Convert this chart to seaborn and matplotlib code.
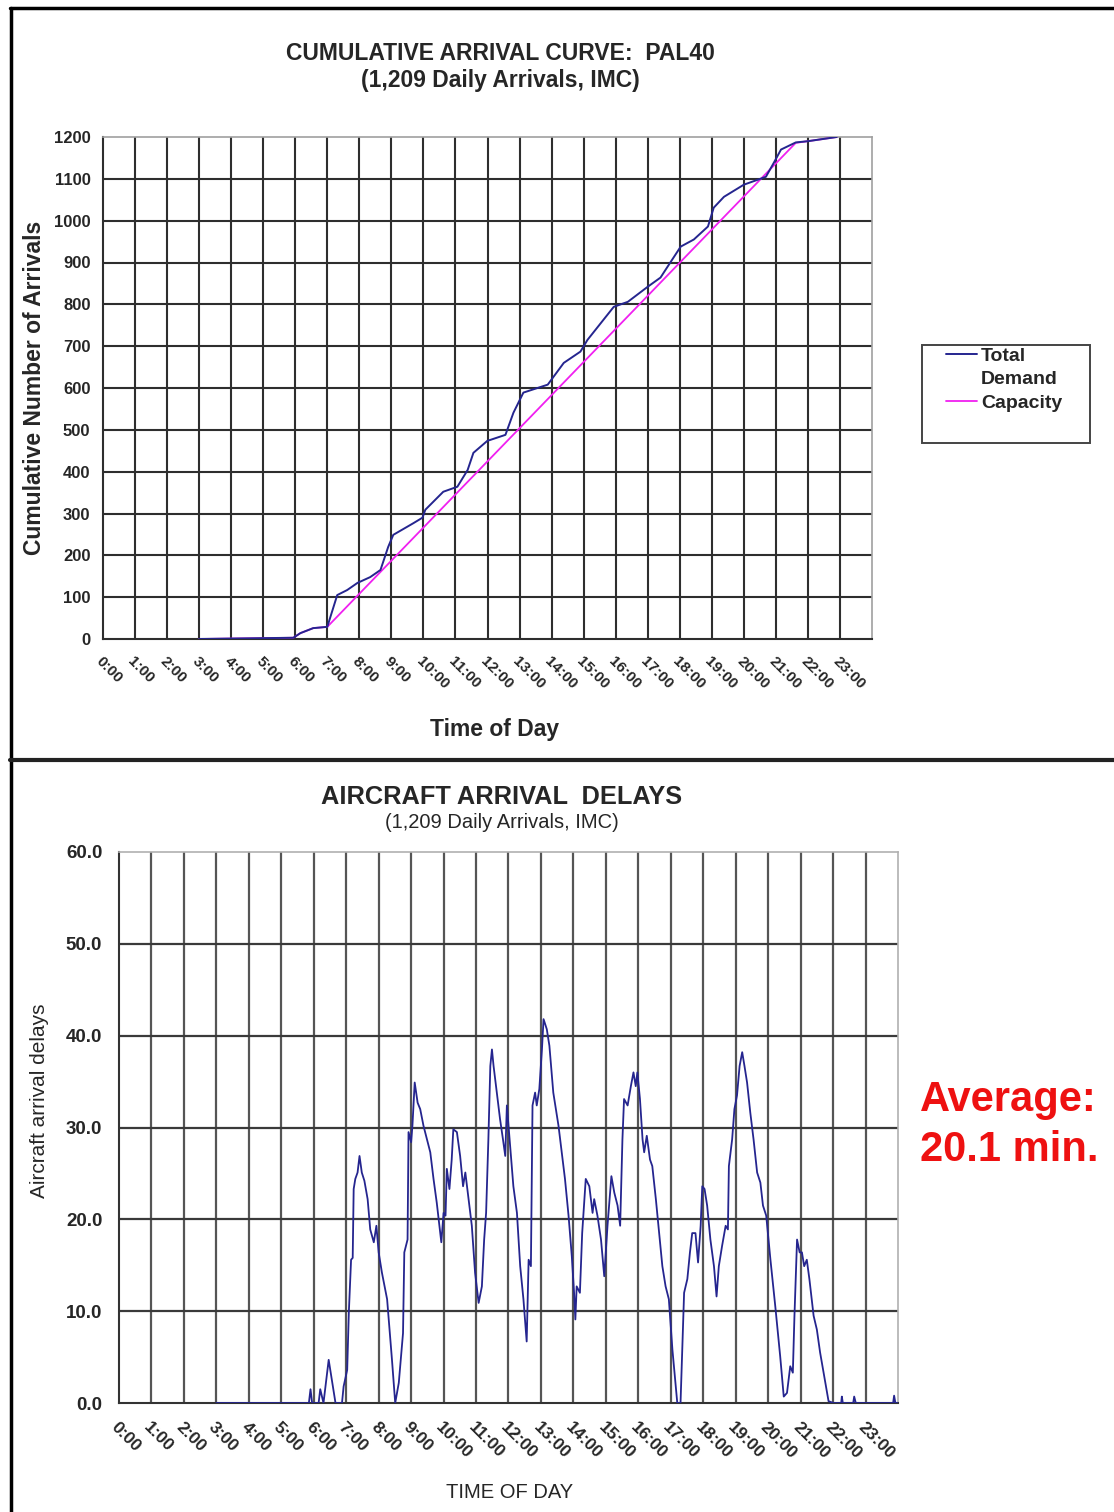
import numpy as np
import pandas as pd
import matplotlib
matplotlib.use("Agg")
import matplotlib.pyplot as plt
from matplotlib.lines import Line2D
from matplotlib.patches import Rectangle
import seaborn as sns

sns.set_style("white")
plt.rcParams['font.family'] = ['Liberation Sans', 'DejaVu Sans']

# ---------------- data ----------------
hour_labels = [f"{h}:00" for h in range(24)]

demand_hours = [3.0, 5.94, 6.16, 6.56, 7.0, 7.31, 7.62, 7.94, 8.34, 8.66, 8.9, 9.06,
                9.69, 9.97, 10.06, 10.62, 11.06, 11.38, 11.56, 12.0, 12.09, 12.56,
                12.81, 13.12, 13.88, 14.38, 14.9, 15.12, 15.94, 16.38, 17.0, 17.4,
                17.62, 18.03, 18.44, 18.88, 19.06, 19.38, 20.0, 20.44, 20.69, 20.94,
                21.16, 21.62, 22.0, 22.9]
demand_vals = [0, 3, 14, 26, 29, 105, 117, 134, 148, 165, 220, 249,
               277, 290, 309, 352, 364, 404, 445, 474, 476, 488,
               541, 589, 608, 660, 687, 715, 794, 806, 842, 864,
               890, 938, 955, 986, 1031, 1057, 1086, 1098, 1105, 1139,
               1170, 1187, 1190, 1200]

capacity_hours = [3.0, 5.94, 6.16, 6.56, 7.0, 21.62, 22.0, 22.9]
capacity_vals = [0, 3, 14, 26, 29, 1186, 1190, 1200]

delay_hours = [3.0, 5.85, 5.9, 5.95, 6.15, 6.2, 6.3, 6.46, 6.67, 6.87, 6.92, 7.03,
               7.08, 7.15, 7.2, 7.23, 7.28, 7.35, 7.41, 7.48, 7.56, 7.66, 7.74,
               7.85, 7.93, 8.0, 8.1, 8.26, 8.41, 8.51, 8.62, 8.69, 8.75, 8.79,
               8.89, 8.92, 9.0, 9.04, 9.11, 9.2, 9.28, 9.38, 9.49, 9.59, 9.69,
               9.79, 9.93, 10.0, 10.06, 10.1, 10.18, 10.25, 10.3, 10.41, 10.51,
               10.6, 10.67, 10.77, 10.87, 10.97, 11.08, 11.18, 11.25, 11.31, 11.38,
               11.44, 11.49, 11.54, 11.64, 11.74, 11.83, 11.9, 11.95, 12.05, 12.15,
               12.26, 12.36, 12.46, 12.56, 12.62, 12.69, 12.74, 12.82, 12.87, 12.95,
               13.03, 13.08, 13.18, 13.26, 13.38, 13.54, 13.64, 13.74, 13.85, 13.95,
               14.02, 14.06, 14.1, 14.2, 14.27, 14.38, 14.49, 14.59, 14.64, 14.74,
               14.85, 14.95, 15.05, 15.17, 15.26, 15.36, 15.44, 15.51, 15.56, 15.67,
               15.77, 15.85, 15.92, 15.97, 16.05, 16.13, 16.18, 16.26, 16.36, 16.43,
               16.54, 16.64, 16.74, 16.84, 16.94, 17.05, 17.2, 17.3, 17.41, 17.51,
               17.59, 17.66, 17.76, 17.84, 17.92, 17.97, 18.04, 18.12, 18.22, 18.33,
               18.41, 18.48, 18.58, 18.69, 18.76, 18.79, 18.89, 18.96, 19.04, 19.12,
               19.2, 19.27, 19.35, 19.45, 19.55, 19.66, 19.76, 19.84, 19.94, 20.07,
               20.22, 20.37, 20.48, 20.58, 20.68, 20.76, 20.81, 20.89, 20.97, 21.04,
               21.11, 21.19, 21.27, 21.4, 21.5, 21.6, 21.76, 21.86, 22.01, 22.25,
               22.27, 22.3, 22.62, 22.65, 22.7, 23.85, 23.88, 23.92, 24.0]
delay_vals = [0, 0, 1.5, 0, 0, 1.5, 0, 4.7, 0, 0, 1.8, 3.6,
              9.8, 15.6, 15.8, 23.3, 24.4, 25.1, 26.9, 25.1, 24.2, 22.2, 18.9,
              17.5, 19.3, 16.4, 14.2, 11.3, 4.7, 0, 2.2, 5.1, 7.6, 16.4,
              17.8, 29.5, 28.4, 30.2, 34.9, 32.7, 32.0, 30.2, 28.7, 27.3, 24.4,
              21.8, 17.5, 20.7, 20.4, 25.5, 23.3, 26.5, 29.8, 29.5, 26.9,
              23.6, 25.1, 22.2, 19.3, 14.2, 10.9, 12.7, 17.8, 20.7, 28.7,
              36.7, 38.5, 36.7, 33.8, 30.9, 28.7, 26.9, 32.4, 28.0, 23.6,
              20.7, 14.9, 11.3, 6.7, 15.6, 14.9, 32.4, 33.8, 32.4, 34.2,
              38.5, 41.8, 40.7, 38.9, 33.8, 30.2, 27.3, 24.4, 20.4, 16.0,
              12.0, 9.1, 12.7, 12.0, 18.5, 24.4, 23.6, 20.7, 22.2, 20.4,
              17.8, 13.8, 19.3, 24.7, 22.9, 21.5, 19.3, 28.7, 33.1, 32.4,
              34.5, 36.0, 34.5, 36.0, 33.1, 28.7, 27.3, 29.1, 26.5, 25.8,
              22.2, 18.5, 14.9, 12.7, 11.3, 5.8, 0, 0, 12.0, 13.5,
              16.4, 18.5, 18.5, 15.3, 19.3, 23.6, 23.3, 21.5, 17.8, 14.9,
              11.6, 14.9, 17.1, 19.3, 18.9, 25.8, 28.7, 32.0, 33.5, 36.7,
              38.2, 36.7, 34.9, 31.6, 28.7, 25.1, 24.0, 21.5, 20.4, 15.6,
              10.5, 5.1, 0.7, 1.1, 4.0, 3.3, 9.5, 17.8, 16.4, 16.4,
              14.9, 15.6, 13.5, 9.5, 8.0, 5.5, 2.2, 0.2, 0, 0,
              0.7, 0, 0, 0.7, 0, 0, 0.8, 0, 0]

# ---------------- figure ----------------
W, H = 1114, 1512
fig = plt.figure(figsize=(W / 100, H / 100), dpi=100)

def fx(px):
    return px / W

def fy(py):
    return 1 - py / H

navy = '#25258f'
magenta = '#f020f0'

# ---- top axes ----
ax1 = fig.add_axes([fx(103), fy(639), fx(872) - fx(103), fy(137) - fy(639)])
df_d = pd.DataFrame({'hour': demand_hours, 'val': demand_vals})
df_c = pd.DataFrame({'hour': capacity_hours, 'val': capacity_vals})
sns.lineplot(data=df_c, x='hour', y='val', ax=ax1, color=magenta, lw=1.3,
             estimator=None, sort=False, label='Capacity', zorder=3)
sns.lineplot(data=df_d, x='hour', y='val', ax=ax1, color=navy, lw=1.4,
             estimator=None, sort=False, label='Total', zorder=4)
ax1.set_xlim(0, 24)
ax1.set_ylim(0, 1200)
ax1.set_xticks(range(24))
ax1.set_xticklabels(hour_labels, rotation=-45, ha='left', va='top',
                    rotation_mode='anchor', fontsize=11, fontweight='bold')
ax1.set_yticks(range(0, 1201, 100))
ax1.set_yticklabels([str(v) for v in range(0, 1201, 100)], fontsize=12,
                    fontweight='bold')
for h in range(1, 24):
    ax1.axvline(h, color='#2e2e2e', lw=1.5, zorder=1)
for v in range(100, 1200, 100):
    ax1.axhline(v, color='#2e2e2e', lw=1.5, zorder=1)
ax1.tick_params(axis='both', direction='out', length=5, width=1.2,
                color='#333333', pad=4)
ax1.tick_params(axis='x', pad=6)
for s in ['left', 'bottom']:
    ax1.spines[s].set_color('#2e2e2e')
    ax1.spines[s].set_linewidth(1.5)
for s in ['top', 'right']:
    ax1.spines[s].set_color('#a0a0a0')
    ax1.spines[s].set_linewidth(1.2)
ax1.set_xlabel('Time of Day', fontsize=16.5, fontweight='bold')
ax1.xaxis.set_label_coords((495 - 103) / (872 - 103), -(718 - 639) / (639 - 137))
ax1.set_ylabel('Cumulative Number of Arrivals', fontsize=16.5, fontweight='bold')
ax1.yaxis.set_label_coords(-(103 - 46) / (872 - 103), (639 - 388) / (639 - 137))
ax1.get_legend().remove()

# legend: frame drawn as a rectangle, entries as a frameless legend
fig.add_artist(Rectangle((fx(922), fy(443)), fx(1090) - fx(922), fy(345) - fy(443),
                         transform=fig.transFigure, fill=False,
                         edgecolor='#444444', lw=1.4))
handles, labels = ax1.get_legend_handles_labels()
h_total = handles[labels.index('Total')]
h_cap = handles[labels.index('Capacity')]
blank = Line2D([], [], color='none')
leg = fig.legend([h_total, blank, h_cap], ['Total', 'Demand', 'Capacity'],
                 loc='upper left', bbox_to_anchor=(fx(946), fy(347)),
                 frameon=False, prop={'weight': 'bold', 'size': 14},
                 handlelength=1.6, handletextpad=0.2, borderpad=0.0,
                 labelspacing=0.32, borderaxespad=0)

fig.text(fx(500), fy(54), 'CUMULATIVE ARRIVAL CURVE:  PAL40', ha='center',
         va='center', fontsize=16.5, fontweight='bold')
fig.text(fx(500), fy(80), '(1,209 Daily Arrivals, IMC)', ha='center',
         va='center', fontsize=16.5, fontweight='bold')

# ---- bottom axes ----
ax2 = fig.add_axes([fx(119), fy(1403), fx(898) - fx(119), fy(852) - fy(1403)])
df_y = pd.DataFrame({'hour': delay_hours, 'delay': delay_vals})
sns.lineplot(data=df_y, x='hour', y='delay', ax=ax2, color=navy, lw=1.3,
             estimator=None, sort=False, zorder=4)
ax2.set_xlim(0, 24)
ax2.set_ylim(0, 60)
ax2.set_xticks(range(24))
ax2.set_xticklabels(hour_labels, rotation=-45, ha='left', va='top',
                    rotation_mode='anchor', fontsize=12.5, fontweight='bold')
ax2.set_yticks(range(0, 61, 10))
ax2.set_yticklabels([f"{v:.1f}" for v in range(0, 61, 10)], fontsize=13.5,
                    fontweight='bold')
for h in range(1, 24):
    ax2.axvline(h, color='#555555', lw=1.6, zorder=1)
for v in range(10, 60, 10):
    ax2.axhline(v, color='#3a3a3a', lw=1.6, zorder=1)
ax2.tick_params(axis='both', direction='out', length=5, width=1.2,
                color='#333333', pad=7)
ax2.tick_params(axis='x', pad=7)
for s in ['left', 'bottom']:
    ax2.spines[s].set_color('#333333')
    ax2.spines[s].set_linewidth(1.5)
for s in ['top', 'right']:
    ax2.spines[s].set_color('#b0b0b0')
    ax2.spines[s].set_linewidth(1.2)
ax2.set_xlabel('TIME OF DAY', fontsize=14.5)
ax2.xaxis.set_label_coords((510 - 119) / (898 - 119), -(1483 - 1403) / (1403 - 852))
ax2.set_ylabel('Aircraft arrival delays', fontsize=15)
ax2.yaxis.set_label_coords(-(119 - 49) / (898 - 119), (1403 - 1101) / (1403 - 852))

fig.text(fx(502), fy(797), 'AIRCRAFT ARRIVAL  DELAYS', ha='center', va='center',
         fontsize=18.3, fontweight='bold')
fig.text(fx(502), fy(823), '(1,209 Daily Arrivals, IMC)', ha='center',
         va='center', fontsize=14.5)

fig.text(fx(920), fy(1100), 'Average:', ha='left', va='center', fontsize=30,
         fontweight='bold', color='#ee1111')
fig.text(fx(920), fy(1150), '20.1 min.', ha='left', va='center', fontsize=30,
         fontweight='bold', color='#ee1111')

# ---- outer frame lines ----
fig.add_artist(Line2D([fx(10), 1], [fy(8), fy(8)], color='black', lw=2.5))
fig.add_artist(Line2D([fx(11), fx(11)], [fy(8), 0], color='black', lw=2.5))
fig.add_artist(Line2D([fx(10), 1], [fy(760), fy(760)], color='#222222', lw=3))

fig.savefig('out.png', dpi=100)
